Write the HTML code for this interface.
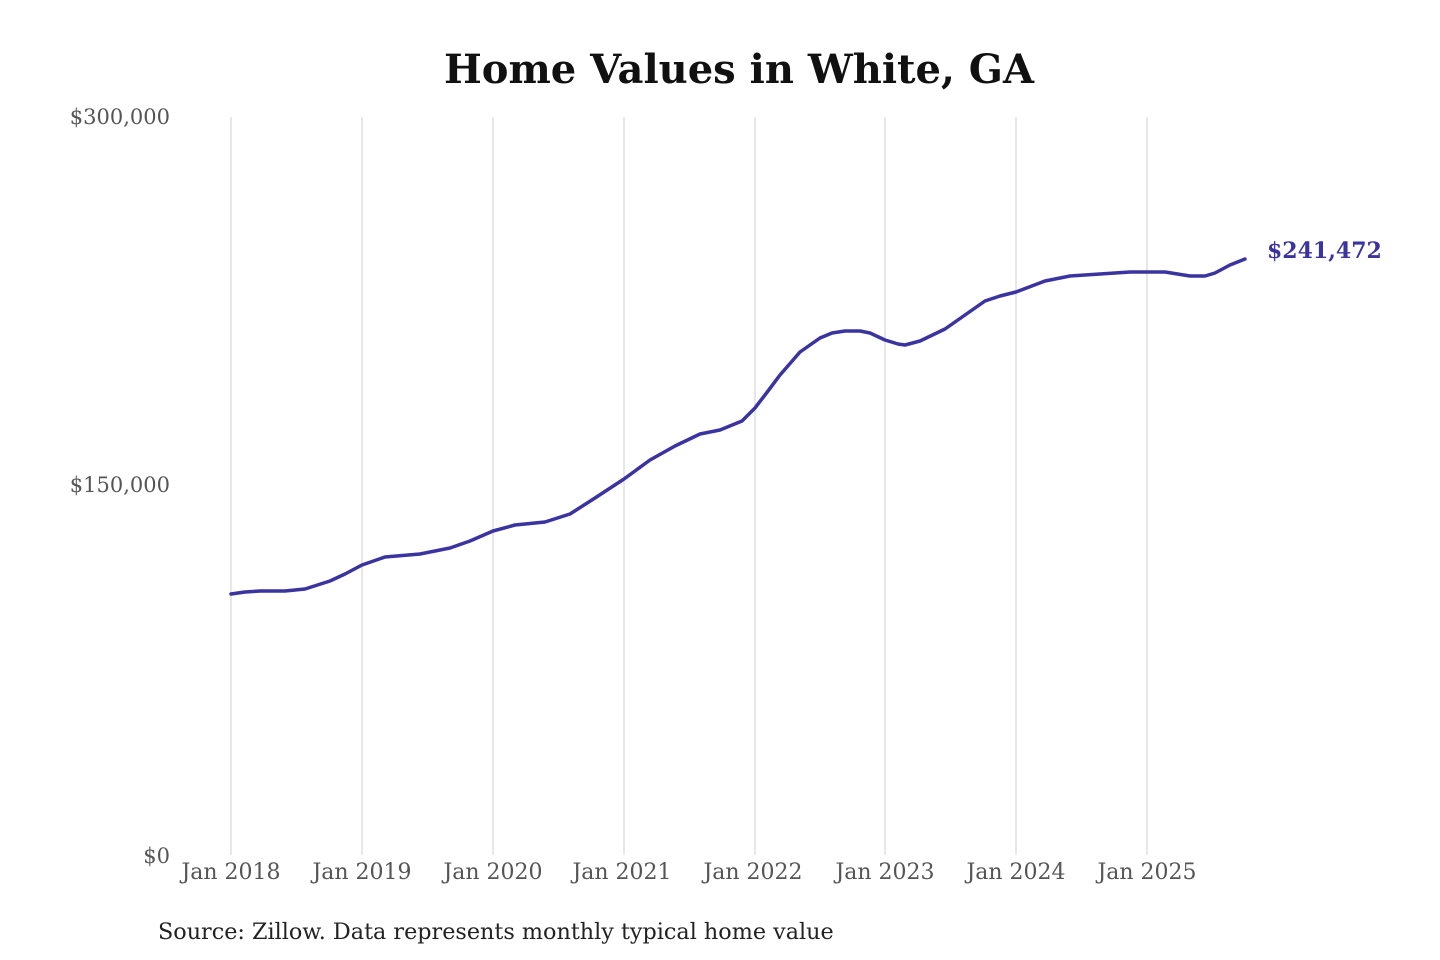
<!DOCTYPE html>
<html><head><meta charset="utf-8"><style>
html,body{margin:0;padding:0;background:#fff;}
svg{display:block;}
text{font-family:"DejaVu Serif","Liberation Serif",serif;}
</style></head><body>
<svg width="1440" height="960" viewBox="0 0 1440 960" xmlns="http://www.w3.org/2000/svg">
<rect width="1440" height="960" fill="#fff"/>
<text x="739" y="83" text-anchor="middle" font-size="40" font-weight="bold" fill="#111">Home Values in White, GA</text>
<g stroke="#cfcfcf" stroke-width="1">
<line x1="231" y1="117" x2="231" y2="855"/>
<line x1="362" y1="117" x2="362" y2="855"/>
<line x1="493" y1="117" x2="493" y2="855"/>
<line x1="624" y1="117" x2="624" y2="855"/>
<line x1="755" y1="117" x2="755" y2="855"/>
<line x1="885" y1="117" x2="885" y2="855"/>
<line x1="1016" y1="117" x2="1016" y2="855"/>
<line x1="1147" y1="117" x2="1147" y2="855"/>
</g>
<g font-size="21" fill="#555" text-anchor="end">
<text x="170" y="124">$300,000</text>
<text x="170" y="492">$150,000</text>
<text x="170" y="863">$0</text>
</g>
<g font-size="22" fill="#555" text-anchor="middle">
<text x="231" y="879">Jan 2018</text>
<text x="362" y="879">Jan 2019</text>
<text x="493" y="879">Jan 2020</text>
<text x="622" y="879">Jan 2021</text>
<text x="753" y="879">Jan 2022</text>
<text x="885" y="879">Jan 2023</text>
<text x="1016" y="879">Jan 2024</text>
<text x="1147" y="879">Jan 2025</text>
</g>
<polyline fill="none" stroke="#3a33a0" stroke-width="3.5" stroke-linejoin="round" stroke-linecap="round"
points="231,594 245,592 260,591 285,591 305,589 330,581 345,574 362,565 385,557 420,554 450,548 470,541 493,531 515,525 545,522 570,514 595,498 624,479 650,460 675,446 700,434 720,430 742,421 755,408 768,391 780,375 800,352 820,338 832,333 845,331 860,331 870,333 885,340 898,344 905,345 920,341 945,329 965,315 985,301 1000,296 1016,292 1045,281 1070,276 1100,274 1130,272 1165,272 1190,276 1205,276 1215,273 1230,265 1245,259"/>
<text x="1267" y="258" font-size="22" font-weight="bold" fill="#3a33a0">$241,472</text>
<text x="158" y="939" font-size="22.3" fill="#222">Source: Zillow. Data represents monthly typical home value</text>
</svg>
</body></html>
